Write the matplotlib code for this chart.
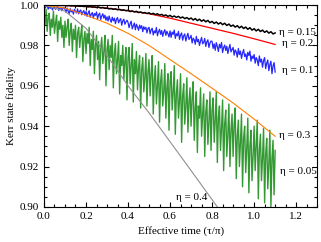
import numpy as np
import matplotlib
matplotlib.use("Agg")
from matplotlib import pyplot as plt
from matplotlib.ticker import MultipleLocator

plt.rcParams['font.family'] = ['Liberation Serif', 'DejaVu Serif']

# smooth curves, sampled every 0.1
t_smooth = [0.0, 0.1, 0.2, 0.3, 0.4, 0.5, 0.6, 0.7, 0.8, 0.9, 1.0, 1.1]
eta_02 = [1.0, 0.9998, 0.9993, 0.9985, 0.9972, 0.9957, 0.9935, 0.991, 0.9885, 0.986, 0.9833, 0.9805]
eta_03 = [1.0, 0.9985, 0.995, 0.991, 0.986, 0.980, 0.973, 0.966, 0.9588, 0.9515, 0.9435, 0.935]
t_gray = [0.0, 0.1, 0.2, 0.3, 0.4, 0.5, 0.6, 0.7, 0.8, 0.9]
eta_04 = [1.0, 0.997, 0.9885, 0.975, 0.960, 0.9466, 0.9323, 0.918, 0.9036, 0.889]

# noisy curves
t_fine = np.linspace(0, 1.1, 221)   # step 0.005
t_mid = np.linspace(0, 1.1, 111)    # step 0.01

eta_005 = [
    0.996, 0.990, 0.998, 0.987, 0.994, 0.996, 0.985, 0.993, 0.989, 0.997, 0.986, 0.991, 0.995, 0.982, 0.992, 0.988, 0.994, 0.984, 0.990, 0.979,
    0.992, 0.984, 0.989, 0.993, 0.980, 0.987, 0.991, 0.977, 0.988, 0.983, 0.990, 0.974, 0.986, 0.989, 0.979, 0.985, 0.990, 0.972, 0.983, 0.987,
    0.976, 0.986, 0.981, 0.989, 0.970, 0.983, 0.978, 0.987, 0.966, 0.980, 0.985, 0.973, 0.982, 0.963, 0.979, 0.984, 0.971, 0.977, 0.985, 0.960,
    0.978, 0.983, 0.968, 0.980, 0.974, 0.985, 0.959, 0.976, 0.981, 0.966, 0.973, 0.982, 0.956, 0.975, 0.970, 0.980, 0.963, 0.972, 0.979, 0.953,
    0.974, 0.979, 0.961, 0.970, 0.981, 0.952, 0.973, 0.966, 0.977, 0.958, 0.969, 0.975, 0.949, 0.968, 0.974, 0.957, 0.964, 0.976, 0.950, 0.967,
    0.973, 0.955, 0.966, 0.975, 0.946, 0.963, 0.970, 0.951, 0.960, 0.972, 0.942, 0.962, 0.968, 0.950, 0.957, 0.971, 0.944, 0.959, 0.966, 0.938,
    0.962, 0.967, 0.948, 0.957, 0.970, 0.936, 0.956, 0.963, 0.944, 0.953, 0.966, 0.932, 0.955, 0.961, 0.941, 0.950, 0.964, 0.937, 0.952, 0.959,
    0.940, 0.954, 0.962, 0.933, 0.949, 0.957, 0.927, 0.950, 0.944, 0.959, 0.935, 0.946, 0.956, 0.925, 0.947, 0.953, 0.931, 0.942, 0.957, 0.928,
    0.948, 0.954, 0.932, 0.943, 0.957, 0.922, 0.944, 0.950, 0.928, 0.939, 0.953, 0.918, 0.941, 0.948, 0.925, 0.936, 0.951, 0.920, 0.938, 0.946,
    0.925, 0.941, 0.949, 0.914, 0.935, 0.943, 0.920, 0.932, 0.946, 0.910, 0.934, 0.940, 0.917, 0.929, 0.944, 0.907, 0.930, 0.938, 0.913, 0.925,
    0.940, 0.918, 0.931, 0.943, 0.904, 0.928, 0.936, 0.913, 0.924, 0.939, 0.902, 0.926, 0.934, 0.909, 0.921, 0.938, 0.900, 0.924, 0.933, 0.906,
    0.928,
]

eta_01 = [
    0.9998, 0.9985, 0.9993, 1.0, 0.9980, 0.9991, 0.9984, 0.9996, 0.9976, 0.9988, 0.9993, 0.9979, 0.9986, 0.9995, 0.9974, 0.9983, 0.9990, 0.9972, 0.9984, 0.9988,
    0.9978, 0.9963, 0.9985, 0.9970, 0.9958, 0.9982, 0.9966, 0.9975, 0.9955, 0.9979, 0.9968, 0.9961, 0.9981, 0.9957, 0.9970, 0.9976, 0.9952, 0.9966, 0.9973, 0.9950,
    0.9968, 0.9944, 0.9960, 0.9972, 0.9940, 0.9955, 0.9963, 0.9936, 0.9958, 0.9949, 0.9966, 0.9932, 0.9952, 0.9960, 0.9929, 0.9946, 0.9957, 0.9935, 0.9950, 0.9925,
    0.9942, 0.9921, 0.9946, 0.9928, 0.9915, 0.9940, 0.9922, 0.9935, 0.9908, 0.9930, 0.9938, 0.9912, 0.9925, 0.9933, 0.9900, 0.9922, 0.9930, 0.9905, 0.9917, 0.9925,
    0.9914, 0.9888, 0.9908, 0.9920, 0.9882, 0.9897, 0.9911, 0.9878, 0.9905, 0.9892, 0.9875, 0.9901, 0.9885, 0.9898, 0.9868, 0.9893, 0.9880, 0.9890, 0.9862, 0.9884,
    0.9890, 0.9858, 0.9878, 0.9885, 0.9852, 0.9872, 0.9862, 0.9889, 0.9848, 0.9868, 0.9880, 0.9855, 0.9874, 0.9845, 0.9866, 0.9878, 0.9850, 0.9870, 0.9858, 0.9842,
    0.9872, 0.9840, 0.9866, 0.9855, 0.9876, 0.9835, 0.9858, 0.9848, 0.9870, 0.9830, 0.9852, 0.9862, 0.9826, 0.9848, 0.9857, 0.9822, 0.9844, 0.9860, 0.9830, 0.9838,
    0.9850, 0.9812, 0.9836, 0.9828, 0.9806, 0.9845, 0.9818, 0.9830, 0.9800, 0.9822, 0.9840, 0.9808, 0.9815, 0.9835, 0.9795, 0.9818, 0.9828, 0.9790, 0.9812, 0.9822,
    0.9820, 0.9785, 0.9808, 0.9776, 0.9814, 0.9795, 0.9770, 0.9806, 0.9788, 0.9815, 0.9765, 0.9790, 0.9802, 0.9775, 0.9796, 0.9760, 0.9785, 0.9805, 0.9768, 0.9780,
    0.9790, 0.9752, 0.9778, 0.9768, 0.9742, 0.9785, 0.9755, 0.9772, 0.9736, 0.9762, 0.9780, 0.9745, 0.9758, 0.9728, 0.9766, 0.9750, 0.9772, 0.9722, 0.9748, 0.9735,
    0.9755, 0.9712, 0.9740, 0.9728, 0.9700, 0.9748, 0.9718, 0.9732, 0.9692, 0.9725, 0.9740, 0.9685, 0.9712, 0.9728, 0.9675, 0.9705, 0.9722, 0.9660, 0.9698, 0.9715,
    0.9668,
]

eta_015 = [
    1.0, 0.9999, 1.0, 0.9999, 1.0, 0.9999, 1.0, 0.9998, 0.9999, 0.9998,
    0.9999, 0.9997, 0.9998, 0.9996, 0.9997, 0.9995, 0.9996, 0.9994, 0.9995, 0.9993,
    0.9994, 0.9991, 0.9993, 0.9990, 0.9991, 0.9988, 0.9990, 0.9986, 0.9988, 0.9984,
    0.9985, 0.9981, 0.9983, 0.9979, 0.9981, 0.9977, 0.9979, 0.9974, 0.9976, 0.9972,
    0.9974, 0.9968, 0.9971, 0.9966, 0.9969, 0.9963, 0.9966, 0.9961, 0.9963, 0.9958,
    0.9962, 0.9955, 0.9959, 0.9953, 0.9957, 0.9950, 0.9954, 0.9947, 0.9951, 0.9944,
    0.9949, 0.9941, 0.9946, 0.9939, 0.9944, 0.9936, 0.9941, 0.9933, 0.9938, 0.9930,
    0.9936, 0.9926, 0.9933, 0.9923, 0.9930, 0.9920, 0.9927, 0.9917, 0.9924, 0.9913,
    0.9919, 0.9909, 0.9916, 0.9906, 0.9913, 0.9903, 0.9910, 0.9899, 0.9906, 0.9895,
    0.9901, 0.9891, 0.9898, 0.9887, 0.9895, 0.9884, 0.9891, 0.9880, 0.9888, 0.9876,
    0.9883, 0.9872, 0.9880, 0.9869, 0.9876, 0.9865, 0.9872, 0.9861, 0.9868, 0.9857,
    0.9862,
]

fig = plt.figure(figsize=(3.21, 2.42), dpi=100)
ax = fig.add_axes([0.137, 0.145, 0.851, 0.834])

ax.plot(t_fine, eta_005, color='#008000', lw=1.0, alpha=0.8)
ax.plot(t_fine, eta_01, color='#0000ff', lw=0.9, alpha=0.85)
ax.plot(t_gray, eta_04, color='#909090', lw=0.8)
ax.plot(t_smooth, eta_03, color='#ff8000', lw=0.8)
ax.plot(t_smooth, eta_02, color='#ff0000', lw=0.9)
ax.plot(t_mid, eta_015, color='black', lw=1.1)

fs = 8
ax.text(1.12, 0.9862, "η = 0.15", fontsize=fs, va='center')
ax.text(1.135, 0.9808, "η = 0.2", fontsize=fs, va='center')
ax.text(1.135, 0.9675, "η = 0.1", fontsize=fs, va='center')
ax.text(1.12, 0.9355, "η = 0.3", fontsize=fs, va='center')
ax.text(1.125, 0.9175, "η = 0.05", fontsize=fs, va='center')
ax.text(0.63, 0.9048, "η = 0.4", fontsize=fs, va='center')

ax.set_xlim(0, 1.3)
ax.set_ylim(0.90, 1.00)
ax.xaxis.set_major_locator(MultipleLocator(0.2))
ax.xaxis.set_minor_locator(MultipleLocator(0.05))
ax.yaxis.set_major_locator(MultipleLocator(0.02))
ax.yaxis.set_minor_locator(MultipleLocator(0.005))
ax.xaxis.set_major_formatter(plt.FuncFormatter(lambda v, p: "%.1f" % v))
ax.yaxis.set_major_formatter(plt.FuncFormatter(lambda v, p: "%.2f" % v))
ax.tick_params(which='both', direction='in', top=True, right=True, labelsize=fs, width=0.8)
ax.tick_params(which='major', length=3.5)
ax.tick_params(which='minor', length=2)
for s in ax.spines.values():
    s.set_linewidth(0.8)

ax.set_xlabel("Effective time (τ/π)", fontsize=fs, labelpad=4)
ax.set_ylabel("Kerr state fidelity", fontsize=fs, labelpad=3)

fig.savefig("out.png", dpi=100)
